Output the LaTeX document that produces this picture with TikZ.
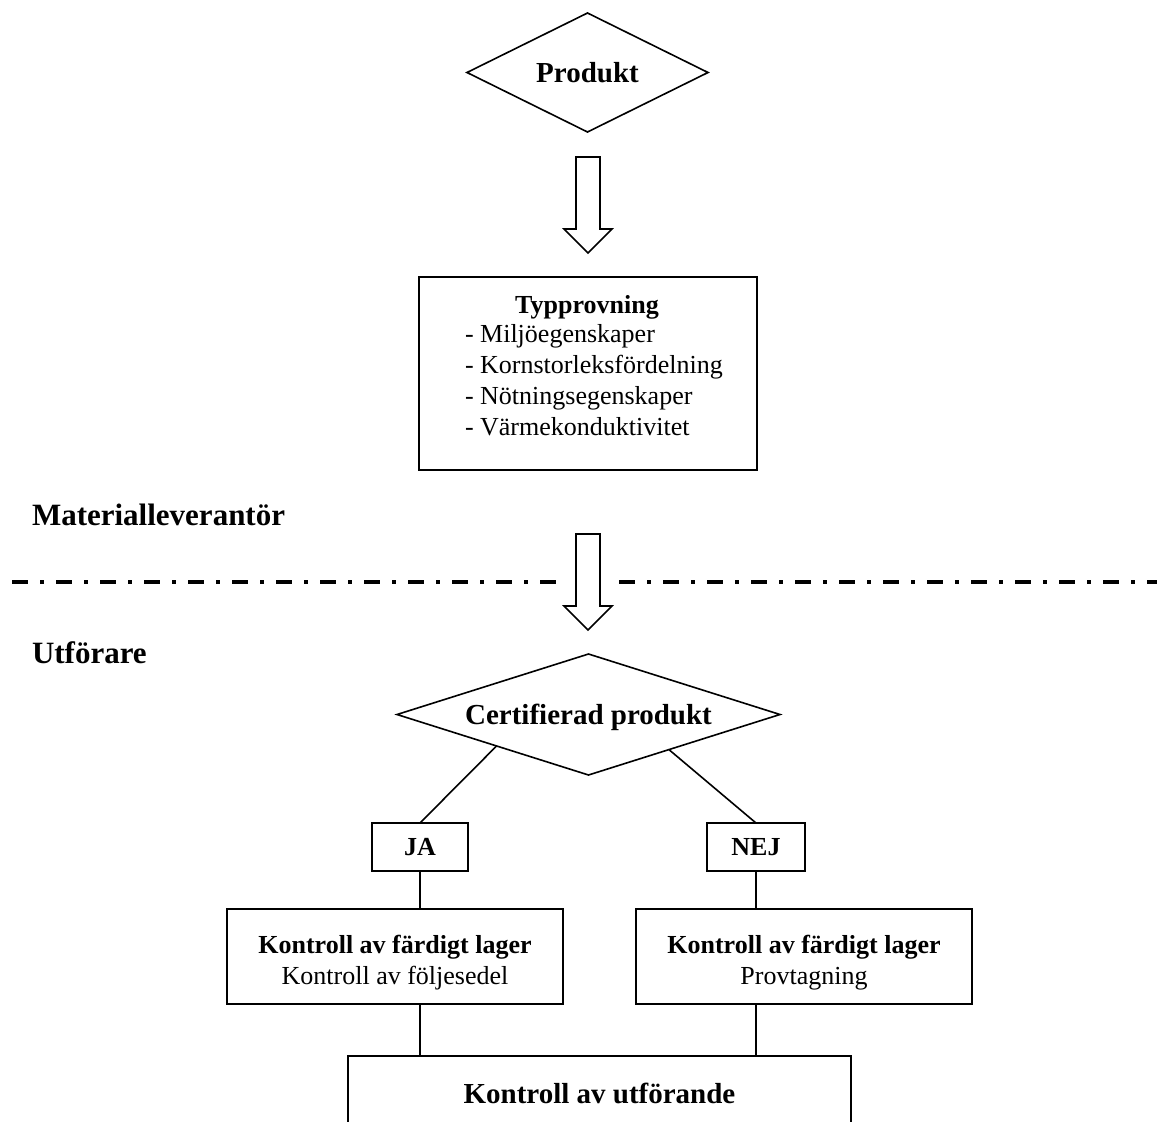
\documentclass[tikz,border=0pt]{standalone}
\usepackage{fontspec}
\setmainfont{Liberation Serif}
\usetikzlibrary{shapes.geometric,calc}
\begin{document}
\begin{tikzpicture}[x=1pt,y=-1pt,
  lw/.style={line width=1.6pt},
  boxnode/.style={draw,lw,rectangle,inner sep=0pt,outer sep=0pt,align=center},
  dia/.style={draw,lw,diamond,inner sep=0pt,outer sep=0pt},
  bigf/.style={font=\fontsize{29}{34}\selectfont\bfseries},
  midf/.style={font=\fontsize{26}{31}\selectfont},
  midb/.style={font=\fontsize{26}{31}\selectfont\bfseries},
  headf/.style={font=\fontsize{31}{36}\selectfont\bfseries},
  txt/.style={inner sep=0pt,outer sep=0pt},
  blockarrow/.style={draw,lw,fill=white,line join=miter},
  sepline/.style={line width=4pt,dash pattern=on 16pt off 12pt on 4pt off 12pt}
]
\useasboundingbox (0,0) rectangle (1157,1122);
\clip (0,0) rectangle (1157,1122);

% Produkt
\node[dia,bigf,minimum width=241pt,minimum height=119pt,aspect=2] (prod) at (587.5,72.5) {Produkt};

% arrow 1
\draw[blockarrow] (576,157) -- (600,157) -- (600,229) -- (612,229) -- (588,253) -- (564,229) -- (576,229) -- cycle;

% Typprovning
\node[boxnode,minimum width=338pt,minimum height=193pt] (typ) at (588,373.5) {};
\node[txt,midb,anchor=base] (typt) at (587,313) {Typprovning};
\node[txt,midf,anchor=base west] (t1) at (465,342) {- Miljöegenskaper};
\node[txt,midf,anchor=base west] (t2) at (465,373) {- Kornstorleksfördelning};
\node[txt,midf,anchor=base west] (t3) at (465,404) {- Nötningsegenskaper};
\node[txt,midf,anchor=base west] (t4) at (465,435) {- Värmekonduktivitet};

% labels
\node[txt,headf,anchor=base west] (mat) at (32,525) {Materialleverantör};
\node[txt,headf,anchor=base west] (utf) at (32,663) {Utförare};

% separator
\coordinate (s1) at (12,582);
\coordinate (s2) at (556,582);
\coordinate (s3) at (619,582);
\coordinate (s4) at (1157,582);
\draw[sepline] (s1) -- (s2);
\draw[sepline] (s3) -- (s4);

% arrow 2
\draw[blockarrow] (576,534) -- (600,534) -- (600,606) -- (612,606) -- (588,630) -- (564,606) -- (576,606) -- cycle;

% Certifierad produkt
\node[dia,bigf,minimum width=383pt,minimum height=121pt,aspect=3.17] (cert) at (588.5,714.5) {};
\node[txt,bigf] (certt) at ([yshift=-3pt]cert.center) {Certifierad produkt};

% JA / NEJ
\node[boxnode,midb,minimum width=96pt,minimum height=48pt] (ja) at (420,847) {JA};
\node[boxnode,midb,minimum width=98pt,minimum height=48pt] (nej) at (756,847) {NEJ};

% Kontroll boxes
\node[boxnode,minimum width=336pt,minimum height=95pt] (k1) at (395,956.5) {};
\node[txt,midf,align=center] (k1t) at ([yshift=-6pt]k1.center) {\textbf{Kontroll av färdigt lager}\\Kontroll av följesedel};
\node[boxnode,minimum width=336pt,minimum height=95pt] (k2) at (804,956.5) {};
\node[txt,midf,align=center] (k2t) at ([yshift=-6pt]k2.center) {\textbf{Kontroll av färdigt lager}\\Provtagning};

% bottom box
\node[boxnode,bigf,minimum width=503pt,minimum height=74pt] (bot) at (599.5,1093) {Kontroll av utförande};

% connectors
\draw[lw] ($(cert.south)!0.48!(cert.west)$) -- (ja.north);
\draw[lw] ($(cert.south)!0.42!(cert.east)$) -- (nej.north);
\draw[lw] (ja.south) -- (ja.south |- k1.north);
\draw[lw] (nej.south) -- (nej.south |- k2.north);
\draw[lw] (ja.south |- k1.south) -- (ja.south |- bot.north);
\draw[lw] (nej.south |- k2.south) -- (nej.south |- bot.north);
\end{tikzpicture}
\end{document}
